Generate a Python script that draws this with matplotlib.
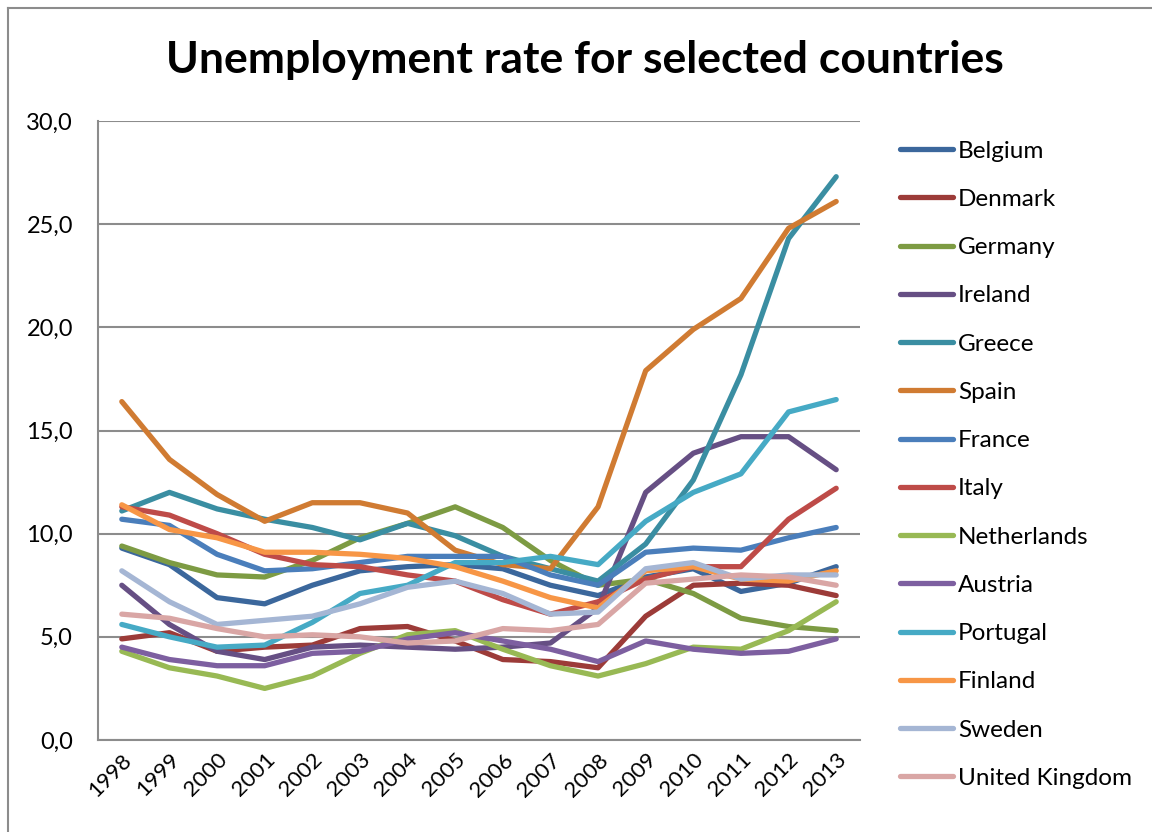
import matplotlib
matplotlib.use("Agg")
import matplotlib.pyplot as plt
from matplotlib.lines import Line2D

years = [str(y) for y in range(1998, 2014)]
countries = ["Belgium", "Denmark", "Germany", "Ireland", "Greece", "Spain", "France",
             "Italy", "Netherlands", "Austria", "Portugal", "Finland", "Sweden", "United Kingdom"]

belgium = [9.3, 8.5, 6.9, 6.6, 7.5, 8.2, 8.4, 8.5, 8.3, 7.5, 7.0, 7.9, 8.3, 7.2, 7.6, 8.4]
denmark = [4.9, 5.2, 4.3, 4.5, 4.6, 5.4, 5.5, 4.8, 3.9, 3.8, 3.5, 6.0, 7.5, 7.6, 7.5, 7.0]
germany = [9.4, 8.6, 8.0, 7.9, 8.7, 9.8, 10.5, 11.3, 10.3, 8.7, 7.5, 7.8, 7.1, 5.9, 5.5, 5.3]
ireland = [7.5, 5.6, 4.3, 3.9, 4.5, 4.6, 4.5, 4.4, 4.5, 4.7, 6.4, 12.0, 13.9, 14.7, 14.7, 13.1]
greece = [11.1, 12.0, 11.2, 10.7, 10.3, 9.7, 10.5, 9.9, 8.9, 8.3, 7.7, 9.5, 12.6, 17.7, 24.3, 27.3]
spain = [16.4, 13.6, 11.9, 10.6, 11.5, 11.5, 11.0, 9.2, 8.5, 8.3, 11.3, 17.9, 19.9, 21.4, 24.8, 26.1]
france = [10.7, 10.4, 9.0, 8.2, 8.3, 8.6, 8.9, 8.9, 8.9, 8.0, 7.5, 9.1, 9.3, 9.2, 9.8, 10.3]
italy = [11.3, 10.9, 10.0, 9.0, 8.5, 8.4, 8.0, 7.7, 6.8, 6.1, 6.7, 7.8, 8.4, 8.4, 10.7, 12.2]
netherlands = [4.3, 3.5, 3.1, 2.5, 3.1, 4.2, 5.1, 5.3, 4.4, 3.6, 3.1, 3.7, 4.5, 4.4, 5.3, 6.7]
austria = [4.5, 3.9, 3.6, 3.6, 4.2, 4.3, 4.9, 5.2, 4.8, 4.4, 3.8, 4.8, 4.4, 4.2, 4.3, 4.9]
portugal = [5.6, 5.0, 4.5, 4.6, 5.7, 7.1, 7.5, 8.6, 8.6, 8.9, 8.5, 10.6, 12.0, 12.9, 15.9, 16.5]
finland = [11.4, 10.2, 9.8, 9.1, 9.1, 9.0, 8.8, 8.4, 7.7, 6.9, 6.4, 8.2, 8.4, 7.8, 7.7, 8.2]
sweden = [8.2, 6.7, 5.6, 5.8, 6.0, 6.6, 7.4, 7.7, 7.1, 6.1, 6.2, 8.3, 8.6, 7.8, 8.0, 8.0]
united_kingdom = [6.1, 5.9, 5.4, 5.0, 5.1, 5.0, 4.7, 4.8, 5.4, 5.3, 5.6, 7.6, 7.8, 8.0, 7.9, 7.5]

series = [belgium, denmark, germany, ireland, greece, spain, france, italy,
          netherlands, austria, portugal, finland, sweden, united_kingdom]
colors = ["#3B679C", "#9C3B38", "#7D9B43", "#664F84", "#3A8EA2", "#D07B32", "#4A7EBB",
          "#BE4B48", "#98B954", "#7D5FA0", "#46AAC5", "#F79646", "#A5B6D4", "#D9A6A5"]

yticks = [0, 5, 10, 15, 20, 25, 30]

fig = plt.figure(figsize=(11.52, 8.32), dpi=100)
ax = fig.add_axes([98 / 1152, 1 - 740 / 832, (860 - 98) / 1152, (740 - 121) / 832])

x = list(range(len(years)))
for name, vals, c in zip(countries, series, colors):
    ax.plot(x, vals, color=c, lw=3.8, solid_capstyle="round", solid_joinstyle="round",
            label=name, zorder=3)

ax.set_xlim(-0.5, len(years) - 0.5)
ax.set_ylim(0, 30)
ax.set_yticks(yticks)
ax.set_yticklabels([f"{v:.1f}".replace(".", ",") for v in yticks], fontsize=17, family="Lato")
ax.set_xticks(x)
ax.set_xticklabels(years, rotation=45, ha="right", rotation_mode="anchor", fontsize=16,
                   family="Lato")
ax.tick_params(axis="y", length=0, pad=18)
ax.tick_params(axis="x", length=0, pad=7)
ax.grid(axis="y", color="#8C8C8C", lw=1.5, zorder=1)
for s in ["top", "right"]:
    ax.spines[s].set_visible(False)
for s in ["left", "bottom"]:
    ax.spines[s].set_color("#8C8C8C")
    ax.spines[s].set_linewidth(1.5)

fig.text(585 / 1152, 1 - 60 / 832, "Unemployment rate for selected countries",
         ha="center", va="center", fontsize=32, fontweight="bold", family="Lato")

handles = [Line2D([], [], color=c, lw=3.8, solid_capstyle="round") for c in colors]
leg = fig.legend(handles, countries, loc="upper left", bbox_to_anchor=(890 / 1152, 1 - 131 / 832),
                 frameon=False, prop={"family": "Lato", "size": 17.5}, handlelength=2.2,
                 handletextpad=0.2, labelspacing=1.12, borderaxespad=0)

fig.add_artist(Line2D([8 / 1152, 8 / 1152], [0, 1 - 8 / 832], transform=fig.transFigure,
                      color="#8C8C8C", lw=1.5))
fig.add_artist(Line2D([8 / 1152, 1], [1 - 8 / 832, 1 - 8 / 832], transform=fig.transFigure,
                      color="#8C8C8C", lw=1.5))

fig.savefig("out.png", dpi=100)
